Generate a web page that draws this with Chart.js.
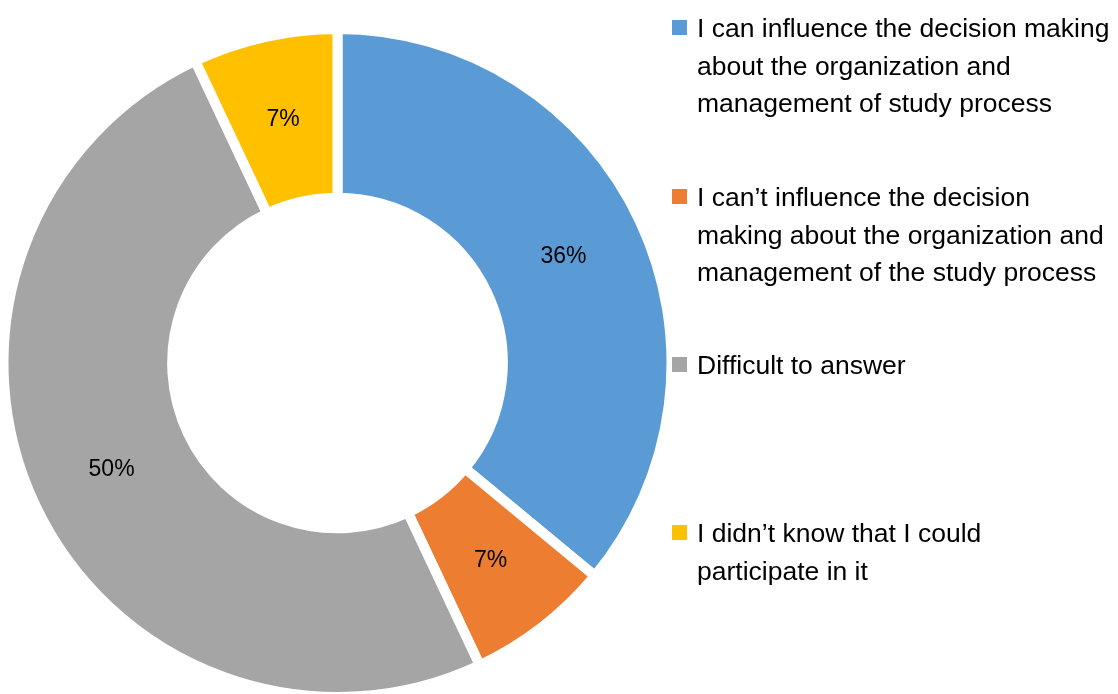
<!DOCTYPE html>
<html>
<head>
<meta charset="utf-8">
<script src="https://cdn.jsdelivr.net/npm/chart.js@4/dist/chart.umd.min.js"></script>
<style>
  html, body { margin: 0; padding: 0; background: #fff; }
  body { width: 1118px; height: 694px; overflow: hidden; position: relative; font-family: "Liberation Sans", Arial, sans-serif; }
  #wrap { position: absolute; left: 0; top: 0; width: 675px; height: 726px; }
  .lg-box { position: absolute; width: 15px; height: 15px; }
  .lg-text { position: absolute; left: 697px; font-size: 26.5px; line-height: 37.5px; color: #000; white-space: nowrap; }
</style>
</head>
<body>
<div id="wrap"><canvas id="chart"></canvas></div>
<div id="legend"></div>
<script>
// ── 数据 ──
const labels = [
  ['I can influence the decision making', 'about the organization and', 'management of study process'],
  ['I can\u2019t influence the decision', 'making about the organization and', 'management of the study process'],
  ['Difficult to answer'],
  ['I didn\u2019t know that I could', 'participate in it'],
];
const shares = [36, 7, 50, 7];
const colors = ['#5B9BD5', '#ED7D31', '#A5A5A5', '#FFC000'];

// 图例每项的起始 y（像素）
const legendTops = [10, 179, 347, 515];

// ── 百分比标签 ──
const pctLabels = {
  id: 'pctLabels',
  afterDatasetsDraw(chart) {
    const { ctx } = chart;
    const meta = chart.getDatasetMeta(0);
    ctx.save();
    ctx.font = '23px "Liberation Sans", Arial, sans-serif';
    ctx.fillStyle = '#000';
    ctx.textAlign = 'center';
    ctx.textBaseline = 'middle';
    meta.data.forEach((arc, i) => {
      const p = arc.tooltipPosition();
      ctx.fillText(shares[i] + '%', p.x, p.y);
    });
    ctx.restore();
  }
};

new Chart(document.getElementById('chart'), {
  type: 'doughnut',
  data: {
    labels: labels.map(l => l.join(' ')),
    datasets: [{
      data: shares,
      backgroundColor: colors,
      borderColor: '#fff',
      borderWidth: 10,
    }],
  },
  options: {
    responsive: true,
    maintainAspectRatio: false,
    animation: false,
    radius: 334,
    cutout: '49.5%',
    plugins: { legend: { display: false }, tooltip: { enabled: false } },
  },
  plugins: [pctLabels],
});

// ── 图例 ──
const legendEl = document.getElementById('legend');
labels.forEach((lines, i) => {
  const box = document.createElement('div');
  box.className = 'lg-box';
  box.style.left = '672px';
  box.style.top = (legendTops[i] + 10) + 'px';
  box.style.background = colors[i];
  legendEl.appendChild(box);

  const txt = document.createElement('div');
  txt.className = 'lg-text';
  txt.style.top = legendTops[i] + 'px';
  txt.innerHTML = lines.join('<br>');
  legendEl.appendChild(txt);
});
</script>
</body>
</html>
